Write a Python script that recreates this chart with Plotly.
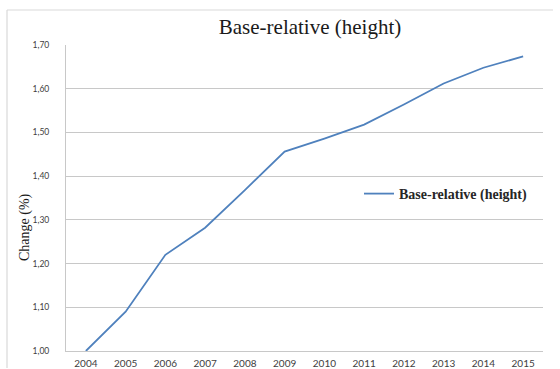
import plotly.graph_objects as go

years = ["2004", "2005", "2006", "2007", "2008", "2009",
         "2010", "2011", "2012", "2013", "2014", "2015"]
base_relative = [1.000, 1.090, 1.220, 1.282, 1.368, 1.456,
                 1.486, 1.518, 1.564, 1.612, 1.648, 1.674]
y_ticks = [1.00, 1.10, 1.20, 1.30, 1.40, 1.50, 1.60, 1.70]
y_tick_labels = ["1,00", "1,10", "1,20", "1,30", "1,40", "1,50", "1,60", "1,70"]

line_color = "#4f81bd"
grid_color = "#c8c8c8"
frame_color = "#d9d9d9"
x_tick_font = dict(family="Lato, Open Sans, sans-serif", size=10, color="#404040")
y_tick_font = dict(family="Lato, Open Sans, sans-serif", size=8.5, color="#404040")
serif = "Liberation Serif, Times New Roman, serif"

# plot area in pixels
L, R, T, B = 66, 543, 45, 351
PW, PH = R - L, B - T


def px(xp):
    return (xp - L) / PW


def py(yp):
    return (B - yp) / PH


fig = go.Figure()
fig.add_trace(go.Scatter(
    x=years, y=base_relative, mode="lines",
    name="<b>Base-relative (height)</b>",
    line=dict(color=line_color, width=1.8),
))

fig.update_layout(
    width=560, height=369,
    margin=dict(l=L, r=560 - R, t=T, b=369 - B, autoexpand=False),
    paper_bgcolor="white", plot_bgcolor="white",
    title=dict(text="Base-relative (height)", xref="container", x=310 / 560,
               xanchor="center", yref="container", y=1 - 27 / 369, yanchor="middle",
               font=dict(family=serif, size=21, color="#1a1a1a")),
    showlegend=True,
    legend=dict(x=px(359), y=py(194), xanchor="left", yanchor="middle",
                bgcolor="rgba(0,0,0,0)", itemwidth=30,
                font=dict(family=serif, size=14, color="#262626")),
    xaxis=dict(type="category", range=[-0.5, len(years) - 0.5],
               showgrid=False, showline=True, linecolor=grid_color,
               linewidth=1, ticks="", tickfont=x_tick_font, ticklabelstandoff=3,
               automargin=False, fixedrange=True),
    yaxis=dict(range=[1.0, 1.7], tickvals=y_ticks, ticktext=y_tick_labels,
               showgrid=True, gridcolor=grid_color, gridwidth=1,
               showline=True, linecolor=grid_color, linewidth=1,
               ticks="", tickfont=y_tick_font, ticklabelstandoff=14, zeroline=False,
               automargin=False),
)

# axis title
fig.add_annotation(text="Change (%)", xref="paper", yref="paper",
                   x=px(25), y=py(227), textangle=-90, showarrow=False,
                   xanchor="center", yanchor="middle",
                   font=dict(family=serif, size=14, color="#1a1a1a"))

# light frame around the chart area (top and left edges)
fig.add_shape(type="line", xref="paper", yref="paper", layer="above",
              x0=px(7), x1=px(553), y0=py(10), y1=py(10),
              line=dict(color=frame_color, width=1.2))
fig.add_shape(type="line", xref="paper", yref="paper", layer="above",
              x0=px(7), x1=px(7), y0=py(10), y1=py(368),
              line=dict(color=frame_color, width=1.2))

fig.write_html("out.html")
